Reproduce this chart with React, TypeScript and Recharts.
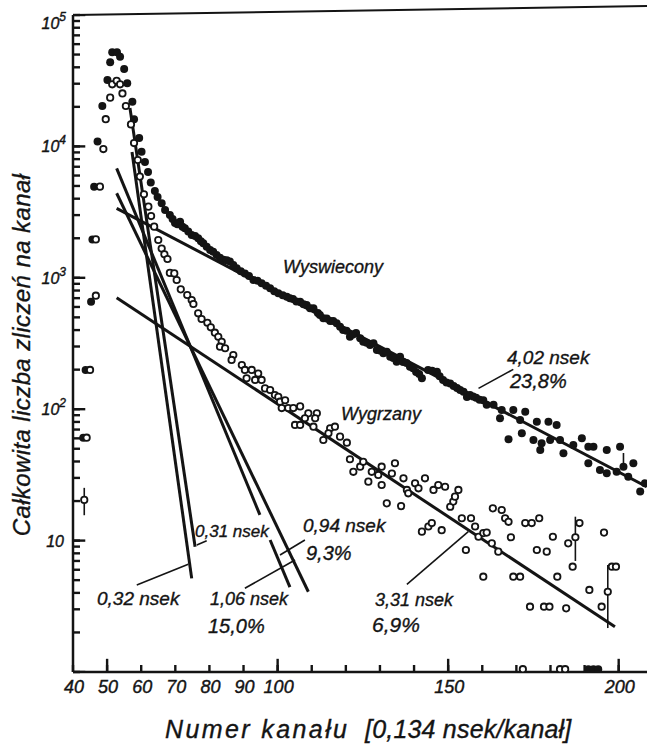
import React from "react";
import { ComposedChart, Scatter, Line, XAxis, YAxis, ReferenceLine } from "recharts";

const FONT = "'Liberation Sans', Arial, sans-serif";
const INK = "#141414";

// [kanał, liczba zliczeń] – próbka "Wyświecony" (pełne kółka)
const wyswiecony: [number, number][] = [
  [43.0, 60.7], [43.7, 199], [45.3, 658], [45.7, 1960], [46.2, 4940],
  [47.2, 10900], [48.6, 20300], [50.1, 32000], [50.9, 43700], [51.5, 52000], [52.9, 52000],
  [53.8, 48200], [55.0, 38800], [55.9, 30200], [57.4, 21900], [57.9, 16100], [59.4, 11600],
  [60.1, 9120], [61.1, 7600], [62.0, 6390], [62.8, 5310], [64.0, 4580], [64.8, 4120],
  [66.0, 3690], [67.0, 3280], [68.4, 3000], [69.9, 2610], [71.4, 2670], [72.8, 2380],
  [74.8, 2120], [76.7, 2000], [78.2, 1830], [80.2, 1630], [82.1, 1490], [84.1, 1370],
  [86.0, 1330], [88.0, 1180], [90.4, 1080], [92.9, 962], [95.3, 908], [97.8, 832],
  [100.2, 762], [102.7, 718], [104.5, 690], [106.6, 658], [108.5, 621], [110.5, 586],
  [111.8, 540], [113.4, 492], [115.4, 469], [117.3, 451], [119.2, 401], [121.2, 356],
  [123.0, 380], [125.1, 326], [127.1, 308], [129.1, 282], [131.0, 266], [133.0, 251],
  [134.9, 230], [136.8, 229], [138.8, 210], [140.6, 192], [142.3, 172], [144.1, 199],
  [146.7, 193], [148.5, 167], [150.6, 157], [152.6, 145], [154.5, 136], [155.5, 124],
  [156.4, 128], [158.2, 122], [160.3, 117], [161.3, 108], [163.3, 108], [165.7, 98.6],
  [165.2, 85.3], [167.7, 59], [169.1, 98.6], [171.1, 82.8], [171.6, 65.6], [172.6, 95.7],
  [175.0, 58.3], [176.0, 80.3], [177.0, 48.9], [177.4, 55], [179.4, 80.3], [179.9, 58.3],
  [181.8, 75.9], [182.8, 58.3], [183.8, 46.2], [186.7, 53.4], [189.2, 60.1], [191.1, 51.8],
  [192.6, 51.8], [191.1, 38.8], [194.5, 34.4], [196.5, 48.9], [196.5, 32.5], [199.4, 33.4],
  [200.4, 51.8], [201.4, 36.5], [202.8, 30.6], [204.3, 38.8], [206.3, 23.6], [207.7, 27.3],
  [69.2, 2800], [70.6, 2560], [72.1, 2450], [73.8, 2250], [75.8, 2080], [77.5, 1900],
  [79.2, 1720], [81.1, 1580], [83.1, 1420], [85.1, 1360], [87.0, 1250], [89.2, 1120],
  [91.6, 1030], [94.1, 950], [96.6, 870], [99.0, 790], [101.5, 735], [103.6, 698],
  [105.5, 660], [107.6, 630], [109.5, 586], [112.4, 521], [114.4, 490], [116.3, 470],
  [118.3, 425], [120.2, 395], [122.1, 370], [124.2, 346], [126.1, 320], [128.1, 317],
  [130.0, 280], [132.0, 274], [133.9, 245], [135.9, 251], [137.8, 225], [139.7, 205],
  [141.5, 185], [145.3, 196], [147.5, 178], [149.5, 160], [151.6, 150], [153.5, 140],
  [157.3, 125], [159.2, 118],
  [191.1, 1.05], [192.6, 1.05], [194.0, 1.05],
];

// [kanał, liczba zliczeń] – próbka "Wygrzany" (puste kółka)
const wygrzany: [number, number][] = [
  [43.3, 20.4], [44.0, 60.7], [45.0, 199], [46.7, 731], [46.7, 1960], [47.9, 4940],
  [48.9, 9550], [49.6, 16100], [50.9, 23500], [51.5, 29700], [52.8, 31600], [53.8, 29700],
  [54.5, 25300], [55.5, 20300], [57.0, 14700], [57.9, 10600], [59.0, 7880], [59.6, 5890],
  [60.8, 4320], [62.1, 3480], [62.9, 2950], [63.8, 2450], [65.0, 1940], [66.0, 1670],
  [66.8, 1510], [67.7, 1390], [68.4, 1090], [69.7, 1080], [70.4, 962], [71.6, 817],
  [73.5, 740], [74.8, 678], [75.3, 632], [76.7, 537], [77.7, 486], [79.4, 455],
  [80.4, 420], [81.6, 382], [82.6, 356], [83.6, 326], [83.1, 299], [84.6, 291],
  [87.0, 258], [86.5, 237], [89.5, 217], [90.4, 199], [92.4, 199], [94.3, 187],
  [90.9, 172], [93.4, 167], [95.3, 167], [96.3, 144], [97.8, 140], [99.2, 128],
  [100.2, 124], [100.7, 114], [102.2, 117], [101.2, 102], [103.1, 102], [104.6, 102],
  [106.6, 105], [109.0, 93], [108.0, 85.3], [111.5, 93], [111.0, 85.3], [105.1, 75.9],
  [106.6, 75.9], [110.5, 73.6], [115.4, 71.6], [116.8, 73.6], [114.9, 65.6], [118.3, 61.8],
  [113.4, 58.3], [120.3, 55.6], [121.2, 41.6], [122.2, 33.4], [124.2, 36.5], [125.1, 39.8],
  [126.6, 28.1], [127.6, 33.4], [129.5, 31.6], [130.5, 36.5], [130.5, 26.5], [132.0, 19.2],
  [133.5, 32.4], [134.4, 38.8], [136.2, 18.3], [136.9, 29.8], [137.9, 24.3], [138.3, 22.9],
  [140.3, 27.3], [141.3, 25], [142.3, 11.7], [143.2, 29.8], [144.2, 12.8], [145.2, 13.6],
  [145.7, 24.3], [147.1, 26.5], [148.1, 12], [149.1, 25.7], [150.6, 18.1], [151.5, 19.8],
  [152.0, 21.6], [153.0, 24.3], [154.0, 14.8], [155.2, 8.48], [156.7, 14.8], [157.9, 12.8],
  [158.9, 10.7], [160.3, 11.4], [161.3, 11.5], [160.3, 5.31], [162.8, 9.53], [163.1, 17.6],
  [164.7, 8.24], [165.7, 17.1], [166.7, 14.8], [167.7, 13.9], [168.4, 10.6], [169.1, 5.31],
  [171.1, 5.31], [172.6, 13.6], [174.5, 13.6], [174.0, 3.14], [176.0, 8.48], [176.7, 14.8],
  [178.1, 3.14], [179.7, 3.14], [178.9, 8.24], [180.7, 10.7], [182.0, 5.31], [184.6, 3.05],
  [185.2, 9.53], [186.5, 6.33], [187.3, 10.6], [188.5, 13.6], [191.4, 4.21], [195.0, 3.14],
  [195.7, 11.5], [196.8, 4.08], [198.0, 6.33], [199.2, 6.33],
  [171.9, 1.05], [182.8, 1.05], [184.3, 1.05],
];

// dopasowane składowe wykładnicze: [[kanał, zliczenia], [kanał, zliczenia]]
const fitWyswiecony402: [number, number][] = [[52.8, 3380], [208.2, 25.7]];
const fitWygrzany331: [number, number][] = [[52.8, 706], [198.9, 2.21]];
const fit094: [number, number][] = [[52.8, 4400], [109.0, 4.08]];
const fit106a: [number, number][] = [[52.8, 6810], [94.8, 15.7]];
const fit106b: [number, number][] = [[97.8, 10.1], [103.6, 4.43]];
const fit031: [number, number][] = [[56.7, 19600], [75.8, 8.99]];
const fit032: [number, number][] = [[57.3, 9060], [74.8, 5.16]];
const fitLines = [fitWyswiecony402, fitWygrzany331, fit094, fit106a, fit106b, fit031, fit032];

// odnośniki od opisów do prostych
const leaders: [number, number][][] = [
  [[169.1, 201], [158.9, 144]],
  [[137.9, 4.65], [155.9, 11.7]],
  [[76.3, 9.26], [79.2, 9.98]],
  [[58.7, 4.59], [73.8, 6.6]],
  [[90.4, 4.34], [105.1, 7.12]],
  [[100.7, 7.77], [108.0, 10.1]],
];

// słupki błędów: [kanał, dół, góra]
const errorBars: [number, number, number][] = [
  [43.3, 15.6, 25.2],
  [187.3, 7.0, 15.2],
  [196.8, 2.16, 6.52],
  [201.4, 36.5, 46.4],
];

const xTicks = [40, 50, 60, 70, 80, 90, 100, 110, 120, 130, 140, 150, 160, 170, 180, 190, 200];
const xLabelled = [40, 50, 60, 70, 80, 90, 100, 150, 200];
const xLong = [50, 100, 150, 200];
const yDecades = [1, 10, 100, 1000, 10000, 100000];
const yTicks = yDecades.slice(0, 5).flatMap((d) => [1, 2, 3, 4, 5, 6, 7, 8, 9].map((m) => m * d)).concat(100000);
const yLabels: Record<number, string> = { 10: "", 100: "2", 1000: "3", 10000: "4", 100000: "5" };

const toPts = (arr: [number, number][]) => arr.map(([x, y]) => ({ x, y }));

// dłuższe kreski podziałki (dekady na osi Y, co 50 kanałów na osi X)
const yMajorSegs = yDecades.map((v) => [
  { x: 40.3, y: v },
  { x: 43.6, y: v },
]);
const xLongSegs = xLong.map((t) => [
  { x: t, y: 1.01 },
  { x: t, y: 1.26 },
]);

const YTick = (props: any) => {
  const { y, payload } = props;
  const v = payload.value;
  const lab = yLabels[v];
  if (lab === undefined) return <g />;
  const off = v === 100000 ? 8 : 0;
  return (
    <text
      x={lab ? 66 : 64}
      y={y + 6 + off}
      textAnchor="end"
      fontFamily={FONT}
      fontStyle="italic"
      fontSize={16}
      fill={INK}
      stroke={INK}
      strokeWidth={0.4}
    >
      10{lab && <tspan dy={-8} fontSize={12}>{lab}</tspan>}
    </text>
  );
};

const XTick = (props: any) => {
  const { x, y, payload } = props;
  const v = payload.value;
  if (!xLabelled.includes(v)) return <g />;
  return (
    <text
      x={x + 1}
      y={y + 13}
      textAnchor="middle"
      fontFamily={FONT}
      fontStyle="italic"
      fontSize={18}
      fill={INK}
      stroke={INK}
      strokeWidth={0.4}
    >
      {v}
    </text>
  );
};

const FilledDot = (p: any) => <circle cx={p.cx} cy={p.cy} r={4} fill={INK} />;
const OpenDot = (p: any) => <circle cx={p.cx} cy={p.cy} r={3.2} fill="#fff" stroke={INK} strokeWidth={1.8} />;

const Note = ({ x, y, size, children, ls = 0 }: any) => (
  <text
    x={x}
    y={y}
    fontFamily={FONT}
    fontStyle="italic"
    fontSize={size}
    letterSpacing={ls}
    fill={INK}
    stroke={INK}
    strokeWidth={0.35}
  >
    {children}
  </text>
);

export default function App() {
  return (
    <div style={{ position: "absolute", left: 0, top: 0, width: 647, height: 745, background: "#fff" }}>
      <ComposedChart width={647} height={745} margin={{ top: 15, right: 0, bottom: 0, left: 0 }}>
        <XAxis
          dataKey="x"
          type="number"
          domain={[40, 208.3]}
          ticks={xTicks}
          interval={0}
          allowDataOverflow
          height={73}
          tickSize={-7}
          tickMargin={15}
          tickLine={{ stroke: INK, strokeWidth: 2.4 }}
          axisLine={{ stroke: INK, strokeWidth: 2.5 }}
          tick={<XTick />}
        />
        <YAxis
          dataKey="y"
          type="number"
          scale="log"
          domain={[1, 100000]}
          ticks={yTicks}
          interval={0}
          allowDataOverflow
          width={73}
          tickSize={-7}
          tickLine={{ stroke: INK, strokeWidth: 2.4 }}
          axisLine={{ stroke: INK, strokeWidth: 2.5 }}
          tick={<YTick />}
        />
        <ReferenceLine
          segment={[{ x: 40, y: 100000 }, { x: 208.3, y: 117000 }]}
          stroke={INK}
          strokeWidth={2}
          ifOverflow="visible"
        />
        {yMajorSegs.map((s, i) => (
          <Line key={"ym" + i} data={s} dataKey="y" stroke={INK} strokeWidth={2.4} dot={false} isAnimationActive={false} />
        ))}
        {xLongSegs.map((s, i) => (
          <Line key={"xl" + i} data={s} dataKey="y" stroke={INK} strokeWidth={2.4} dot={false} isAnimationActive={false} />
        ))}
        {fitLines.map((f, i) => (
          <Line
            key={"fit" + i}
            data={toPts(f)}
            dataKey="y"
            stroke={INK}
            strokeWidth={3}
            dot={false}
            isAnimationActive={false}
          />
        ))}
        {leaders.map((l, i) => (
          <ReferenceLine
            key={"ld" + i}
            segment={[{ x: l[0][0], y: l[0][1] }, { x: l[1][0], y: l[1][1] }]}
            stroke={INK}
            strokeWidth={1.6}
            ifOverflow="visible"
          />
        ))}
        {errorBars.map(([x, lo, hi], i) => (
          <ReferenceLine
            key={"eb" + i}
            segment={[{ x, y: lo }, { x, y: hi }]}
            stroke={INK}
            strokeWidth={1.6}
            ifOverflow="visible"
          />
        ))}
        <Scatter data={toPts(wyswiecony)} shape={<FilledDot />} isAnimationActive={false} />
        <Scatter data={toPts(wygrzany)} shape={<OpenDot />} isAnimationActive={false} />
      </ComposedChart>
      <svg width={647} height={745} style={{ position: "absolute", left: 0, top: 0, pointerEvents: "none" }}>
        <Note x={283} y={273} size={18}>Wyswiecony</Note>
        <Note x={341} y={420} size={18}>Wygrzany</Note>
        <Note x={507} y={364} size={19}>4,02 nsek</Note>
        <Note x={510} y={388} size={20}>23,8%</Note>
        <Note x={375} y={606} size={18}>3,31 nsek</Note>
        <Note x={372} y={632} size={21}>6,9%</Note>
        <Note x={195} y={537} size={17}>0,31 nsek</Note>
        <Note x={97} y={605} size={19}>0,32 nsek</Note>
        <Note x={210} y={605} size={18}>1,06 nsek</Note>
        <Note x={208} y={633} size={20}>15,0%</Note>
        <Note x={303} y={532} size={19}>0,94 nsek</Note>
        <Note x={306} y={560} size={20}>9,3%</Note>
        <text
          transform="translate(30,355) rotate(-90)"
          textAnchor="middle"
          fontFamily={FONT}
          fontStyle="italic"
          fontSize={24}
          letterSpacing={0.4}
          fill={INK}
          stroke={INK}
          strokeWidth={0.35}
        >
          Całkowita liczba zliczeń na kanał
        </text>
        <Note x={165} y={738} size={25} ls={2.4}>Numer kanału</Note>
        <Note x={365} y={738} size={25} ls={0.2}>[0,134 nsek/kanał]</Note>
      </svg>
    </div>
  );
}
